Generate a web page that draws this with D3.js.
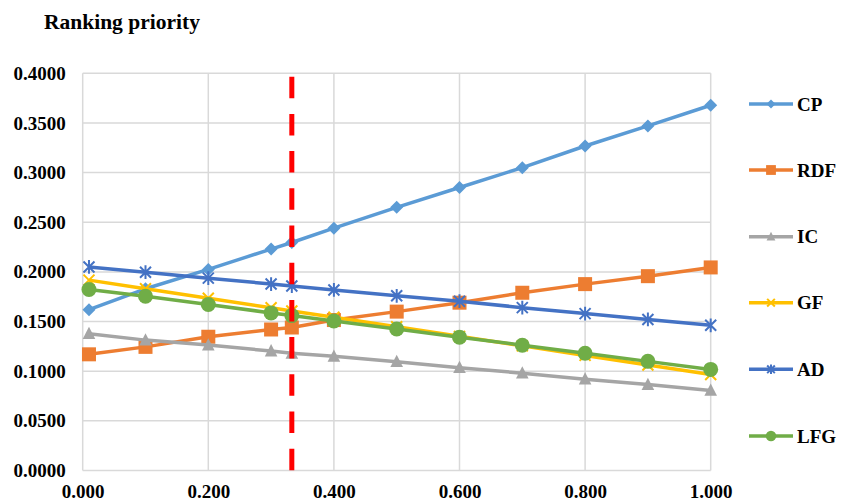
<!DOCTYPE html>
<html>
<head>
<meta charset="utf-8">
<script src="https://cdn.jsdelivr.net/npm/d3@7"></script>
<style>
  html, body { margin: 0; padding: 0; background: #fff; }
  svg { display: block; }
  text { font-family: "Liberation Serif", "Times New Roman", serif; font-weight: bold; fill: #000; }
</style>
</head>
<body>
<svg id="chart" width="842" height="503"></svg>
<script>
const weights = [0.01, 0.1, 0.2, 0.3, 0.333, 0.4, 0.5, 0.6, 0.7, 0.8, 0.9, 1.0];
const seriesNames = ["CP", "RDF", "IC", "GF", "AD", "LFG"];
const CP  = [0.162, 0.183, 0.2025, 0.223, 0.2296, 0.244, 0.265, 0.285, 0.305, 0.3268, 0.347, 0.3678];
const RDF = [0.117, 0.1245, 0.1347, 0.142, 0.144, 0.1515, 0.160, 0.169, 0.179, 0.1877, 0.1957, 0.2045];
const IC  = [0.1378, 0.1313, 0.1263, 0.1203, 0.118, 0.115, 0.1095, 0.1035, 0.098, 0.092, 0.0865, 0.0806];
const GF  = [0.1917, 0.1831, 0.1735, 0.1639, 0.1607, 0.1543, 0.1447, 0.1351, 0.1255, 0.1159, 0.1063, 0.0967];
const AD  = [0.205, 0.1997, 0.1937, 0.1878, 0.1858, 0.1818, 0.1759, 0.1705, 0.164, 0.158, 0.1521, 0.1462];
const LFG = [0.1823, 0.1755, 0.1672, 0.1587, 0.156, 0.1506, 0.1425, 0.1343, 0.1262, 0.1181, 0.1099, 0.1018];
const seriesValues = [CP, RDF, IC, GF, AD, LFG];
const colors = ["#5B9BD5", "#ED7D31", "#A5A5A5", "#FFC000", "#4472C4", "#70AD47"];
const markers = ["diamond", "square", "triangle", "x", "asterisk", "circle"];
const xTicks = [0, 0.2, 0.4, 0.6, 0.8, 1.0];
const yTicks = [0, 0.05, 0.1, 0.15, 0.2, 0.25, 0.3, 0.35, 0.4];
const threshold = 0.333;
const title = "Ranking priority";

const svg = d3.select("#chart");
const plotLeft = 82.7, plotRight = 710.7, plotTop = 73.3, plotBottom = 470.5;
const x = d3.scaleLinear().domain([0, 1]).range([plotLeft, plotRight]);
const y = d3.scaleLinear().domain([0, 0.4]).range([plotBottom, plotTop]);

// gridlines
const grid = svg.append("g");
grid.selectAll("line.h").data(yTicks).join("line").attr("class", "h")
  .attr("x1", plotLeft).attr("x2", plotRight)
  .attr("y1", d => y(d)).attr("y2", d => y(d))
  .attr("stroke", "#d9d9d9").attr("stroke-width", 1.5);
grid.selectAll("line.v").data(xTicks).join("line").attr("class", "v")
  .attr("y1", plotTop).attr("y2", plotBottom)
  .attr("x1", d => x(d)).attr("x2", d => x(d))
  .attr("stroke", "#d9d9d9").attr("stroke-width", 1.5);

// axes (labels only)
const yAxis = d3.axisLeft(y).tickValues(yTicks).tickFormat(d3.format(".4f")).tickSize(0).tickPadding(17);
const gy = svg.append("g").attr("transform", `translate(${plotLeft},0)`).call(yAxis);
gy.select(".domain").remove();
gy.selectAll("text").style("font-size", "19px").style("font-family", "Liberation Serif").style("font-weight", "bold").attr("dy", "0.32em");

const xAxis = d3.axisBottom(x).tickValues(xTicks).tickFormat(d3.format(".3f")).tickSize(0).tickPadding(14);
const gx = svg.append("g").attr("transform", `translate(0,${plotBottom})`).call(xAxis);
gx.select(".domain").remove();
gx.selectAll("text").style("font-size", "19px").style("font-family", "Liberation Serif").style("font-weight", "bold").attr("dy", "0.71em");

// title
svg.append("text").attr("x", 44).attr("y", 29.3).style("font-size", "21.5px").text(title);

function drawMarker(g, type, color, cx, cy, s) {
  if (type === "diamond") {
    const r = 6.5 * s;
    g.append("path").attr("d", `M${cx},${cy-r}L${cx+r},${cy}L${cx},${cy+r}L${cx-r},${cy}Z`).attr("fill", color);
  } else if (type === "square") {
    const r = 7 * s;
    g.append("rect").attr("x", cx-r).attr("y", cy-r).attr("width", 2*r).attr("height", 2*r).attr("fill", color);
  } else if (type === "triangle") {
    const r = 6.3 * s;
    g.append("path").attr("d", `M${cx},${cy-r*1.1}L${cx+r},${cy+r*0.85}L${cx-r},${cy+r*0.85}Z`).attr("fill", color);
  } else if (type === "circle") {
    g.append("circle").attr("cx", cx).attr("cy", cy).attr("r", 7.5 * s).attr("fill", color);
  } else if (type === "x") {
    const r = 5.5 * s;
    g.append("path").attr("d", `M${cx-r},${cy-r}L${cx+r},${cy+r}M${cx-r},${cy+r}L${cx+r},${cy-r}`)
      .attr("stroke", color).attr("stroke-width", 2).attr("fill", "none");
  } else if (type === "asterisk") {
    const r = 5.5 * s;
    g.append("path").attr("d", `M${cx-r},${cy-r}L${cx+r},${cy+r}M${cx-r},${cy+r}L${cx+r},${cy-r}M${cx},${cy-r*1.25}L${cx},${cy+r*1.25}`)
      .attr("stroke", color).attr("stroke-width", 2).attr("fill", "none");
  }
}

const line = d3.line().x(d => x(d[0])).y(d => y(d[1]));
seriesNames.forEach((name, i) => {
  const pts = weights.map((w, j) => [w, seriesValues[i][j]]);
  const g = svg.append("g");
  g.append("path").attr("d", line(pts)).attr("fill", "none")
    .attr("stroke", colors[i]).attr("stroke-width", 3.5).attr("stroke-linejoin", "round");
  pts.forEach(p => drawMarker(g, markers[i], colors[i], x(p[0]), y(p[1]), 1));
});

// threshold dashed line
svg.append("line")
  .attr("x1", x(threshold)).attr("x2", x(threshold))
  .attr("y1", 76.7).attr("y2", plotBottom)
  .attr("stroke", "#FF0000").attr("stroke-width", 5)
  .attr("stroke-dasharray", "21.5,15.7");

// legend
const legendY = [104, 170, 236.7, 302.7, 369.3, 436];
seriesNames.forEach((name, i) => {
  const g = svg.append("g");
  const cy = legendY[i];
  g.append("line").attr("x1", 749).attr("x2", 793).attr("y1", cy).attr("y2", cy)
    .attr("stroke", colors[i]).attr("stroke-width", 3.5);
  drawMarker(g, markers[i], colors[i], 771, cy, 0.7);
  g.append("text").attr("x", 797).attr("y", cy + 6.5).style("font-size", "19px").text(name);
});
</script>
</body>
</html>
